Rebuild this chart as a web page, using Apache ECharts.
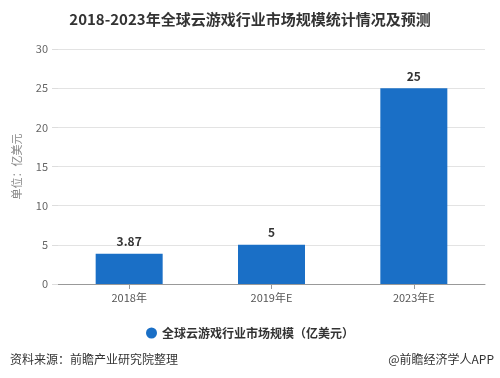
<!DOCTYPE html>
<html><head><meta charset="utf-8">
<script src="https://cdn.jsdelivr.net/npm/echarts@6/dist/echarts.min.js"></script>
<style>html,body{margin:0;padding:0;background:#fff}#c{width:500px;height:378px}</style>
</head><body><div id="c"></div>
<script>
const categories = ['2018年', '2019年E', '2023年E'];
const values = [3.87, 5, 25];
const seriesName = '全球云游戏行业市场规模（亿美元）';
const titleText = '2018-2023年全球云游戏行业市场规模统计情况及预测';
const yName = '单位：亿美元';
const sourceText = '资料来源：前瞻产业研究院整理';
const brandText = '@前瞻经济学人APP';

const chart = echarts.init(document.getElementById('c'));
const font = '"Microsoft YaHei","Noto Sans CJK SC",sans-serif';
chart.setOption({
  animation: false,
  textStyle: { fontFamily: font },
  title: [
    { text: titleText, left: 'center', top: 7, textStyle: { fontSize: 15, fontWeight: 'bold', color: '#333', fontFamily: font } },
    { text: sourceText, left: 5, top: 348, textStyle: { fontSize: 12, fontWeight: 'normal', color: '#333', fontFamily: font } },
    { text: brandText, right: 1, top: 348, textStyle: { fontSize: 12, fontWeight: 'normal', color: '#333', fontFamily: font } }
  ],
  legend: {
    data: [seriesName], top: 322, left: 'center', icon: 'circle', itemWidth: 11, itemHeight: 11,
    textStyle: { fontSize: 12, fontWeight: 'bold', color: '#333', fontFamily: font }
  },
  grid: { left: 58, right: 15, top: 49, bottom: 94 },
  xAxis: {
    type: 'category', data: categories,
    axisLine: { lineStyle: { color: '#999' } },
    axisTick: { show: true, alignWithLabel: true, lineStyle: { color: '#999' } },
    axisLabel: { color: '#555', fontSize: 11, margin: 8 }
  },
  yAxis: {
    type: 'value', min: 0, max: 30, interval: 5,
    name: yName, nameLocation: 'middle', nameGap: 36, nameRotate: 90,
    nameTextStyle: { color: '#888', fontSize: 11 },
    axisLine: { show: false },
    axisTick: { show: true, length: 6, lineStyle: { color: '#ddd' } },
    axisLabel: { color: '#666', fontSize: 11, margin: 10 },
    splitLine: { lineStyle: { color: '#e3e3e3' } }
  },
  series: [{
    name: seriesName, type: 'bar', data: values, barWidth: 67,
    itemStyle: { color: '#1a6fc6' },
    label: { show: true, position: 'top', fontWeight: 'bold', fontSize: 12, color: '#333', distance: 6 }
  }]
});
</script></body></html>
